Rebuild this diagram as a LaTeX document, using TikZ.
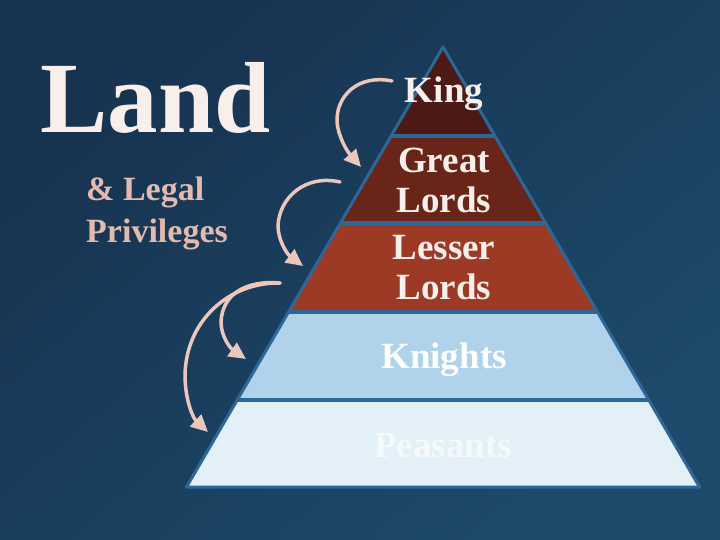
\documentclass[tikz,border=0pt]{standalone}
\usepackage{fontspec}
\setmainfont{Liberation Serif}
\usepackage{tikz}
\usetikzlibrary{arrows.meta,calc,positioning}
\definecolor{dnnen}{HTML}{173350}
\definecolor{dnnensang}{HTML}{1D4A6B}
\definecolor{dnvien}{HTML}{2D6797}
\definecolor{dnvua}{HTML}{4B1A16}
\definecolor{dnquylon}{HTML}{6A2519}
\definecolor{dnquynho}{HTML}{9C3A26}
\definecolor{dnhiepsi}{HTML}{B0D2EA}
\definecolor{dnnongdan}{HTML}{E4F0F8}
\definecolor{dnhong}{HTML}{EBC6BC}
\definecolor{dnhongdam}{HTML}{E2BAAE}
\definecolor{dnchu}{HTML}{F8EEEA}
\def\maunen{dnnen}
\def\mauchu{dnchu}

\begin{document}
\begin{tikzpicture}[x=1pt,y=-1pt,declare function={xl(\t)=443-0.583*(\t-47);xr(\t)=443+0.583*(\t-47);}]
		\tikzstyle{vienstyle} = [dnvien,line width=3pt,line join=round]
		\tikzstyle{tangstyle} = [font=\fontsize{37}{40}\selectfont\bfseries,align=center,inner sep=0pt,anchor=base]
		\tikzstyle{muitenstyle} = [-{Triangle[length=17pt,width=16pt]},line width=3.5pt,line cap=round,dnhong]
		\useasboundingbox (0,0) rectangle (720,540);
		\shade[top color=\maunen,bottom color=dnnensang,shading angle=40] (0,0) rectangle (720,540);
		% cac tang cua kim tu thap
		\foreach \ya/\yb/\mau in {47/136/dnvua,136/223/dnquylon,223/312/dnquynho,312/400/dnhiepsi,400/487/dnnongdan}
		\fill[\mau] ({xl(\ya)},\ya)--({xr(\ya)},\ya)--({xr(\yb)},\yb)--({xl(\yb)},\yb)--cycle;
		\foreach \yy in {136,223,312,400}
		\draw[vienstyle,line width=4pt] ({xl(\yy)},\yy)--({xr(\yy)},\yy);
		\draw[vienstyle] (443,47)--({xl(487)},487)--({xr(487)},487)--cycle;
		% chu trong cac tang (base = dong cuoi)
		\node[tangstyle,text=\mauchu] (king) at (444,103) {King};
		\node[tangstyle,text=\mauchu] (great) at (444,213) {Great\\Lords};
		\node[tangstyle,text=\mauchu] (lesser) at (444,299) {Lesser\\Lords};
		\node[tangstyle,text=white] (knights) at (444,368) {Knights};
		\node[tangstyle,text=dnnongdan!40!white] (peasants) at (443,457) {Peasants};
		% tieu de ben trai
		\node[font=\fontsize{101}{101}\selectfont\bfseries,text=\mauchu,anchor=base west,inner sep=0pt] (land) at (40,133) {Land};
		\node[font=\fontsize{34}{43}\selectfont\bfseries,text=dnhongdam,align=left,anchor=base west,inner sep=0pt] (legal) at (86,243) {\& Legal\\Privileges};
		% mui ten cong
		\coordinate (s1) at (392,81);
		\coordinate (e1) at (361,167);
		\coordinate (s2) at (340,182);
		\coordinate (e2) at (303,266);
		\coordinate (s3) at (280,283);
		\coordinate (e3) at (246,359);
		\coordinate (e4) at (208,432);
		\draw[muitenstyle] (s1)..controls (358,74) and (336,96)..(337,122)..controls (338,135) and (346,150)..(e1);
		\draw[muitenstyle] (s2)..controls (305,174) and (279,198)..(278,226)..controls (278,240) and (287,254)..(e2);
		\draw[muitenstyle] (s3)..controls (245,280) and (222,295)..(221,322)..controls (221,336) and (230,348)..(e3);
		\draw[muitenstyle] (s3)..controls (230,282) and (186,320)..(185,375)..controls (185,400) and (193,418)..(e4);
	\end{tikzpicture}
\end{document}
